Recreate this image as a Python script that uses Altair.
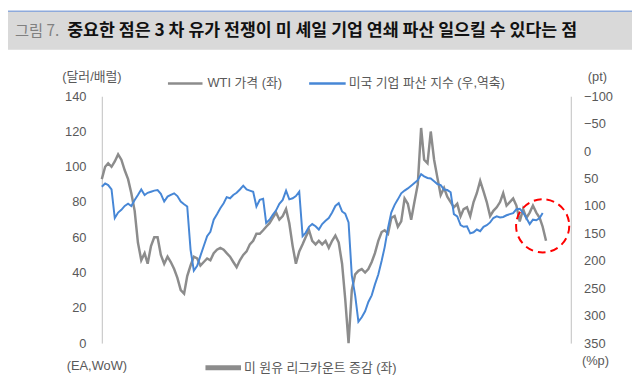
import altair as alt
import pandas as pd

START = "2014-01-01"

# WTI price (USD/bbl), monthly, Jan 2014 .. Apr 2025
wti = [93, 100, 102, 100, 103, 107, 104, 98, 93, 85, 75, 57,
       47, 51, 45, 55, 60, 60, 50, 45, 49, 46, 42, 37,
       30, 28, 38, 44, 49, 48, 44, 46, 48, 47, 51, 53,
       54, 53, 51, 49, 46, 43, 47, 50, 52, 56, 58, 62,
       62, 64, 66, 68, 71, 74, 70, 72, 76, 68, 55, 45,
       52, 56, 60, 64, 58, 56, 58, 56, 58, 54, 58, 61,
       57, 45, 25, 0, 30, 39, 41, 42, 40, 42, 46, 51,
       58, 63, 64, 62, 71, 72, 66, 69, 82, 79, 70, 80,
       90, 122, 104, 102, 120, 104, 94, 84, 88, 83, 80, 77,
       79, 72, 76, 77, 72, 80, 85, 92, 86, 80, 72, 75,
       77, 80, 85, 78, 80, 82, 78, 69, 76, 71, 74, 78,
       74, 71, 66, 58]

# US corporate bankruptcy index (pt, right axis, reversed), monthly
bk = [65, 59, 62, 70, 122, 112, 107, 100, 96, 100, 89, 80,
      70, 80, 76, 74, 72, 71, 78, 92, 83, 80, 77, 82,
      92, 97, 101, 180, 218, 209, 191, 173, 155, 147, 125, 115,
      104, 95, 84, 86, 80, 76, 70, 63, 70, 72, 74, 101,
      89, 87, 131, 125, 116, 108, 96, 89, 72, 88, 86, 82,
      74, 155, 149, 138, 133, 137, 143, 133, 127, 122, 112, 100,
      95, 110, 114, 130, 227, 263, 311, 303, 292, 275, 263, 243,
      225, 200, 175, 140, 112, 98, 88, 77, 72, 68, 63, 58,
      53, 42, 46, 49, 50, 55, 60, 62, 70, 71, 75, 115,
      119, 135, 138, 137, 150, 148, 143, 146, 138, 135, 130, 122,
      119, 121, 120, 117, 115, 113, 106, 105, 112, 122, 133, 125,
      126, 122, 113]

left_ticks = [0, 20, 40, 60, 80, 100, 120, 140]
right_ticks = [-100, -50, 0, 50, 100, 150, 200, 250, 300, 350]

# highlighted area (red dashed circle)
circle_date = ["2025-03-01"]
circle_val = [66.5]

title_tag = "그림 7."
title_text = "중요한 점은 3 차 유가 전쟁이 미 셰일 기업 연쇄 파산 일으킬 수 있다는 점"
left_unit = "(달러/배럴)"
right_unit = "(pt)"
legend_wti = "WTI 가격 (좌)"
legend_bk = "미국 기업 파산 지수 (우,역축)"
bottom_left = "(EA,WoW)"
bottom_right = "(%p)"
bottom_legend = "미 원유 리그카운트 증감 (좌)"

GRAY = "#8c8c8c"
BLUE = "#4787d6"
TXT = "#595959"
LAT = "Liberation Sans, Arial, Noto Sans CJK KR"
KR = "Liberation Sans, Noto Sans CJK KR"

wti_df = pd.DataFrame({"date": pd.date_range(START, periods=len(wti), freq="MS"), "wti": wti})
bk_df = pd.DataFrame({"date": pd.date_range(START, periods=len(bk), freq="MS"), "bk": bk})
circ_df = pd.DataFrame({"date": pd.to_datetime(circle_date), "wti": circle_val})

xenc = alt.X("date:T", axis=None,
             scale=alt.Scale(domain=[alt.DateTime(year=2014, month=1, date=1),
                                     alt.DateTime(year=2025, month=11, date=16)]))

left_axis = alt.Axis(values=left_ticks, title=None, grid=False, ticks=False, tickSize=0,
                     domainColor="#bfbfbf", domainWidth=1, labelPadding=16,
                     labelFontSize=13, labelColor=TXT, labelFont=LAT, orient="left")
right_axis = alt.Axis(values=right_ticks, title=None, grid=False, ticks=False, tickSize=0,
                      domainColor="#bfbfbf", domainWidth=1, labelPadding=13,
                      labelFontSize=13, labelColor=TXT, labelFont=LAT, orient="right")

yl = alt.Y("wti:Q", scale=alt.Scale(domain=[0, 140], nice=False, zero=False), axis=left_axis)

wti_line = alt.Chart(wti_df).mark_line(color=GRAY, strokeWidth=2.5, interpolate="linear").encode(
    x=xenc, y=yl)
circle = alt.Chart(circ_df).mark_point(shape="circle", size=2900, filled=False, color="#ff0000",
                                       strokeWidth=2, strokeDash=[8, 5], opacity=1).encode(
    x=xenc, y=yl)
left_layer = alt.layer(wti_line, circle)

bk_line = alt.Chart(bk_df).mark_line(color=BLUE, strokeWidth=2).encode(
    x=xenc,
    y=alt.Y("bk:Q", scale=alt.Scale(domain=[-100, 350], reverse=True, nice=False, zero=False),
            axis=right_axis))

data_layer = alt.layer(left_layer, bk_line).resolve_scale(y="independent")


def one():
    return alt.Data(values=[{"k": 1}])


def label(text, x, y, size=13, color=TXT, align="left", font=KR, weight="normal"):
    return alt.Chart(one()).mark_text(text=text, align=align, baseline="middle", fontSize=size,
                                      color=color, font=font, fontWeight=weight).encode(
        x=alt.value(x), y=alt.value(y))


def hline(x1, x2, y, color, width):
    return alt.Chart(one()).mark_rule(color=color, strokeWidth=width).encode(
        x=alt.value(x1), x2=alt.value(x2), y=alt.value(y))


# plot origin is at page (103, 95)
band = alt.Chart(one()).mark_rect(color="#d9d9d9").encode(
    x=alt.value(-95), x2=alt.value(537), y=alt.value(-86), y2=alt.value(-47))
band_top = hline(-95, 537, -86, "#8eaadb", 1.5)

decor = [
    band, band_top,
    label(title_tag, -88, -66, size=15.5, color="#808080", font="Noto Sans CJK KR"),
    label(title_text, -35, -66, size=17.5, color="#111111", font="Noto Sans CJK KR", weight="bold"),
    label(left_unit, -10, -19, align="center"),
    label(right_unit, 502, -19, align="center"),
    hline(67, 102, -13, GRAY, 2.5),
    label(legend_wti, 107, -13),
    hline(210, 247, -13, BLUE, 2.5),
    label(legend_bk, 250, -13),
    label(bottom_left, -5, 273, align="center"),
    label(bottom_right, 500, 268, align="center"),
    hline(105, 141, 275, GRAY, 5),
    label(bottom_legend, 144, 275),
]

chart = alt.layer(data_layer, *decor).properties(
    width=475, height=250,
    padding={"left": 95, "top": 87, "right": 62, "bottom": 35},
    autosize=alt.AutoSizeParams(type="none"),
    background="white",
).configure_view(stroke=None)

chart.save("out.html", embed_options={"renderer": "svg", "actions": False})
